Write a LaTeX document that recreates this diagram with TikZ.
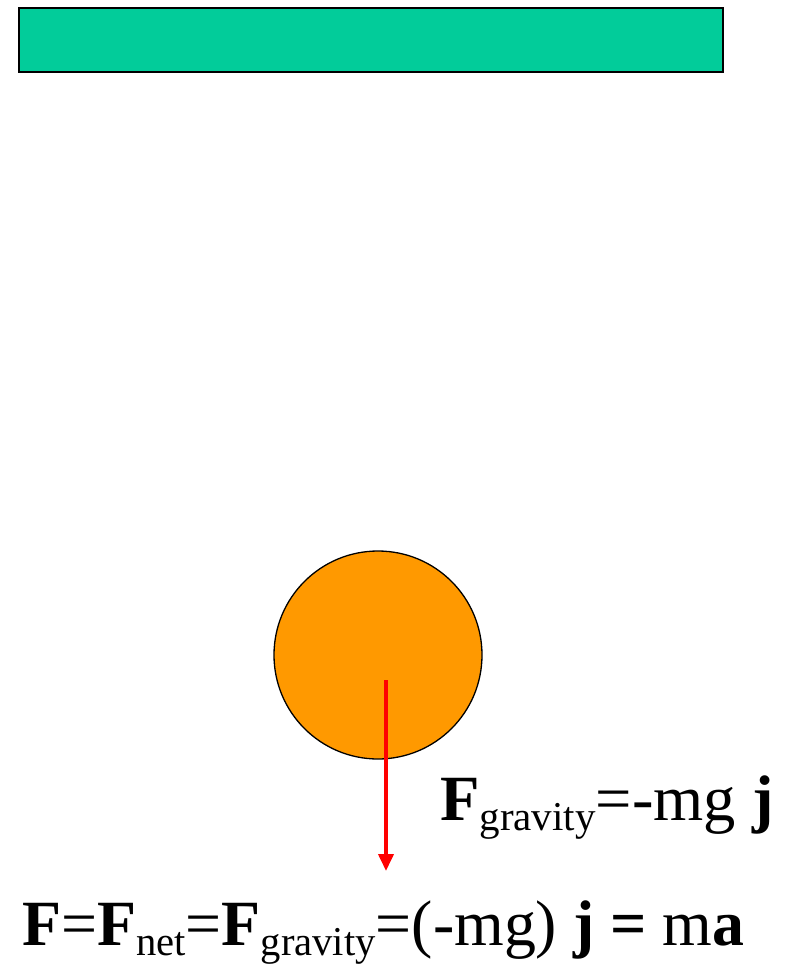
\documentclass[tikz,border=0pt]{standalone}
\usepackage{fontspec}
\setmainfont{Liberation Serif}
\usetikzlibrary{arrows.meta}
\definecolor{barfill}{RGB}{2,204,154}
\definecolor{ballfill}{RGB}{255,153,0}
\newcommand{\subtx}[1]{\raisebox{-0.16em}{\fontsize{41}{43}\selectfont #1}}
\tikzset{
  bar/.style={draw=black, line width=2pt, fill=barfill, inner sep=0pt},
  ball/.style={circle, draw=black, line width=1.3pt, fill=ballfill, inner sep=0pt, minimum size=208pt},
  forcearrow/.style={draw=red, line width=3.8pt, -{Triangle[length=17pt,width=15pt]}},
  eqtext/.style={font=\fontsize{64.5}{70}\selectfont, inner sep=0pt}
}
\begin{document}
\begin{tikzpicture}[x=1pt,y=-1pt]
\useasboundingbox (0,0) rectangle (787,967);
\node[bar, minimum width=704pt, minimum height=64pt, anchor=north west] (ceiling) at (18,7) {};
\node[ball] (ball) at (378,655) {};
\coordinate (tail) at (386,680);
\coordinate (tip) at (386,871);
\draw[forcearrow] (tail) -- (tip);
\node[eqtext, anchor=base west] (fg) at (440,820) {\textbf{F}\subtx{gravity}=-mg \textbf{j}};
\node[eqtext, anchor=base west] (law) at (22,945) {\scalebox{0.99}[1]{\textbf{F}=\textbf{F}\subtx{net}=\textbf{F}\subtx{gravity}=(-mg) \textbf{j = }m\textbf{a}}};
\end{tikzpicture}
\end{document}
